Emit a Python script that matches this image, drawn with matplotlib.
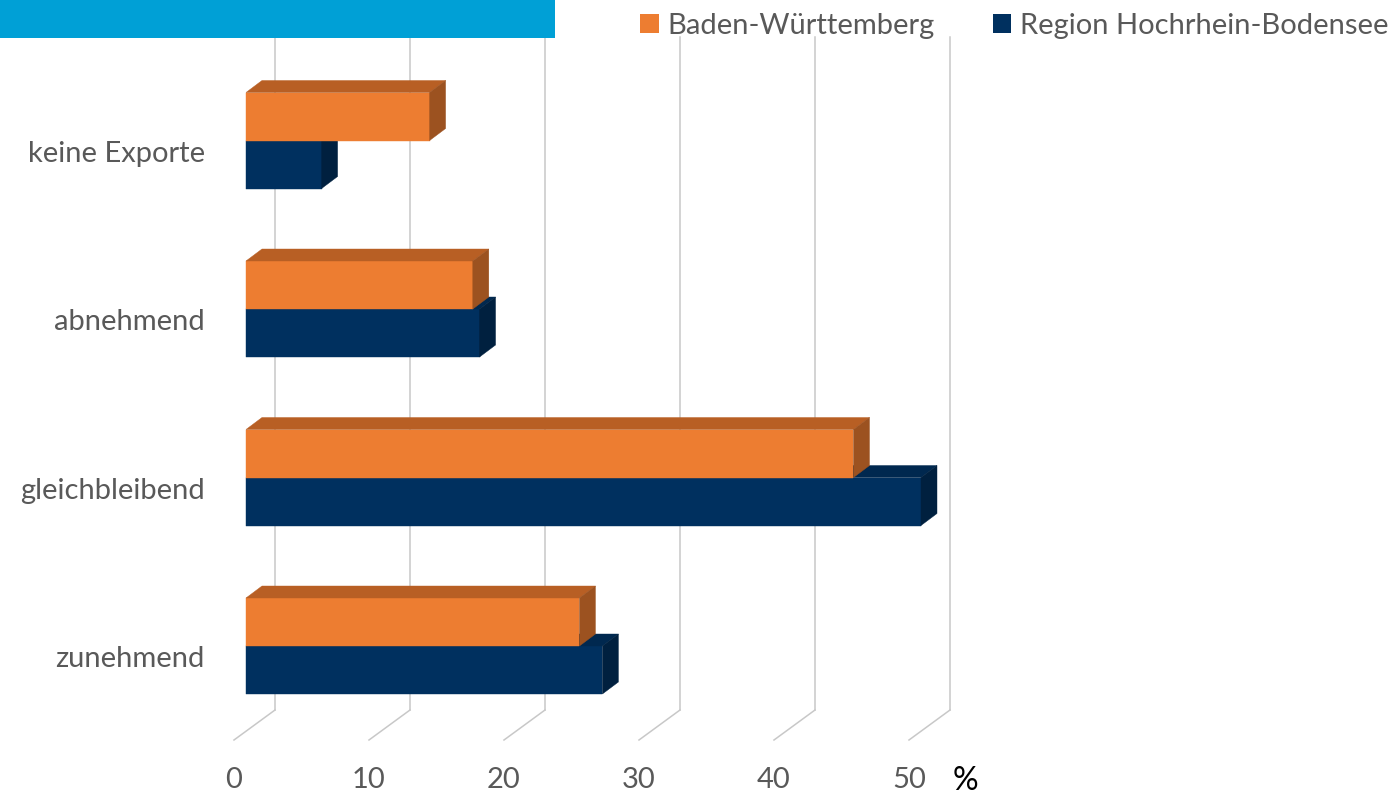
import matplotlib
matplotlib.use("Agg")
import matplotlib.pyplot as plt
from matplotlib.patches import Polygon, Rectangle, Patch

# ---- data ----
categories = ["keine Exporte", "abnehmend", "gleichbleibend", "zunehmend"]
series_names = ["Baden-Württemberg", "Region Hochrhein-Bodensee"]
bw_values = [13.6, 16.8, 45.0, 24.7]
hb_values = [5.6, 17.3, 50.0, 26.4]
x_ticks = [0, 10, 20, 30, 40, 50]
unit_label = "%"

# ---- style ----
W, H = 1394, 795
FONT = ["Lato", "DejaVu Sans"]
TXT = "#595959"
front = {"bw": "#ED7D31", "hb": "#00305F"}
top = {"bw": "#B85F24", "hb": "#00284F"}
side = {"bw": "#9C5220", "hb": "#00203F"}
GRID = "#C8C8C8"

plt.rcParams["font.family"] = FONT

fig = plt.figure(figsize=(W / 100, H / 100), dpi=100)
ax = fig.add_axes([0, 0, 1, 1])
ax.axis("off")

# pixel layout (image coordinates, y from top)
X0 = 246.0          # pixel of value 0 at bar front
PPU = 13.5          # pixels per value unit
Y0 = 140.5          # pixel of first category center
PPC = 168.5         # pixels per category
ax.set_xlim(-X0 / PPU, (W - X0) / PPU)
ax.set_ylim((H - Y0) / PPC, -Y0 / PPC)

def dx(px):
    return px / PPU

def dy(px):  # positive px = downward in image
    return px / PPC

def ypix(py):
    return (py - Y0) / PPC

depth_x, depth_y = dx(16), dy(-12)
bar_h = dy(48)

# ---- back wall gridlines + floor ----
back_x = dx(29)
floor_front_x = dx(-12)
for t in x_ticks:
    ax.plot([t + back_x, t + back_x], [ypix(37), ypix(710)], color=GRID, lw=1.1, zorder=1)
    ax.plot([t + back_x, t + floor_front_x], [ypix(710), ypix(740)], color=GRID, lw=1.1, zorder=1)
    ax.text(t + floor_front_x, ypix(780), str(t), ha="center", va="center",
            fontsize=21, color=TXT, zorder=5)
ax.text(x_ticks[-1] + dx(719 - 675), ypix(781), unit_label, ha="center", va="center",
        fontsize=23, color="black", zorder=5)

# ---- 3D bars ----
def bar3d(yc_top, val, key):
    yt, yb = yc_top, yc_top + bar_h
    ax.barh(yt + bar_h / 2, val, height=bar_h, left=0, color=front[key],
            edgecolor=front[key], lw=0.3, zorder=3)
    ax.add_patch(Polygon([(0, yt), (val, yt), (val + depth_x, yt + depth_y),
                          (depth_x, yt + depth_y)], closed=True,
                         facecolor=top[key], edgecolor=top[key], lw=0.3, zorder=3))
    ax.add_patch(Polygon([(val, yt), (val, yb), (val + depth_x, yb + depth_y),
                          (val + depth_x, yt + depth_y)], closed=True,
                         facecolor=side[key], edgecolor=side[key], lw=0.3, zorder=3))

for i, cat in enumerate(categories):
    # navy (lower) first, orange (upper) on top
    bar3d(i, hb_values[i], "hb")
    bar3d(i - bar_h, bw_values[i], "bw")
    ax.text(dx(205 - X0), i + dy(13), cat, ha="right", va="center",
            fontsize=21, color=TXT, zorder=5)

# ---- header band ----
fig.patches.append(Rectangle((0, 1 - 38 / H), 555 / W, 38 / H, transform=fig.transFigure,
                             facecolor="#00A0D6", edgecolor="none", zorder=10))

# ---- legend ----
handles = [Patch(facecolor=front["bw"], edgecolor="none"),
           Patch(facecolor=front["hb"], edgecolor="none")]
fig.legend(handles, series_names, loc="upper right", bbox_to_anchor=(1394 / W, 1 - 7 / H),
           ncol=2, frameon=False, fontsize=21, handlelength=0.62, handleheight=0.62,
           handletextpad=0.3, columnspacing=2.0, labelcolor=TXT, borderaxespad=0,
           borderpad=0.2)

fig.savefig("out.png", dpi=100)
